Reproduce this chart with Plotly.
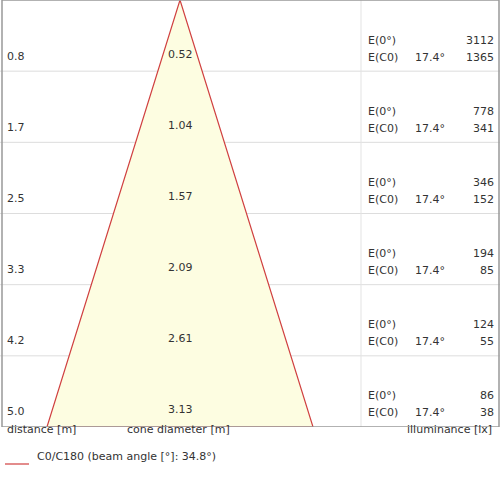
import plotly.graph_objects as go

distances = [0.8, 1.7, 2.5, 3.3, 4.2, 5.0]
diameters = ["0.52", "1.04", "1.57", "2.09", "2.61", "3.13"]
e_center = [3112, 778, 346, 194, 124, 86]
e_c0 = [1365, 341, 152, 85, 55, 38]
half_angle = "17.4°"
max_dist = 5.0
cone_half = 3.13 / 2

PX = 85.0  # pixels per metre horizontally
def xm(px):
    return (px - 180) / PX

H = 426.0
def ym(px):
    return px * max_dist / H

fig = go.Figure()
fig.add_trace(go.Scatter(x=[-cone_half, 0, cone_half, -cone_half], y=[max_dist, 0, max_dist, max_dist],
                         fill="toself", fillcolor="#fdfde1", mode="lines",
                         line=dict(color="#d04040", width=1.2), hoverinfo="skip", showlegend=False))

shapes = []
annots = []
font = dict(family="DejaVu Sans", size=11, color="#333")
step = max_dist / len(distances)
for i, d in enumerate(distances):
    yb = (i + 1) * step
    if i < len(distances) - 1:
        shapes.append(dict(type="line", xref="x", yref="y", x0=xm(0), x1=xm(500), y0=yb, y1=yb,
                           line=dict(color="#dddddd", width=1), layer="below"))
    annots.append(dict(x=xm(5), y=yb - ym(15), text=f"{d:.1f}", xanchor="left", showarrow=False, font=font))
    annots.append(dict(x=0, y=yb - ym(17), text=diameters[i], showarrow=False, font=font))
    annots.append(dict(x=xm(366), y=yb - ym(31), text="E(0°)", xanchor="left", showarrow=False, font=font))
    annots.append(dict(x=xm(366), y=yb - ym(14), text="E(C0)", xanchor="left", showarrow=False, font=font))
    annots.append(dict(x=xm(430), y=yb - ym(14), text=half_angle, showarrow=False, font=font))
    annots.append(dict(x=xm(496), y=yb - ym(31), text=str(e_center[i]), xanchor="right", showarrow=False, font=font))
    annots.append(dict(x=xm(496), y=yb - ym(14), text=str(e_c0[i]), xanchor="right", showarrow=False, font=font))

shapes.append(dict(type="line", xref="x", yref="y", x0=xm(361), x1=xm(361), y0=0, y1=max_dist,
                   line=dict(color="#e3e3e3", width=1), layer="below"))
shapes.append(dict(type="rect", xref="x", yref="y", x0=xm(2), x1=xm(499), y0=0, y1=max_dist,
                   line=dict(color="#999999", width=1.5), layer="above"))

def py(px):
    return 1 - px / 500

annots.append(dict(xref="paper", yref="paper", x=5 / 500, y=py(438), text="distance [m]", xanchor="left", showarrow=False, font=font))
annots.append(dict(xref="paper", yref="paper", x=125 / 500, y=py(438), text="cone diameter [m]", xanchor="left", showarrow=False, font=font))
annots.append(dict(xref="paper", yref="paper", x=494 / 500, y=py(438), text="illuminance [lx]", xanchor="right", showarrow=False, font=font))
annots.append(dict(xref="paper", yref="paper", x=35 / 500, y=py(465), text="C0/C180 (beam angle [°]: 34.8°)", xanchor="left", showarrow=False, font=font))
shapes.append(dict(type="line", xref="paper", yref="paper", x0=5 / 500, x1=29 / 500, y0=py(464), y1=py(464),
                   line=dict(color="#d04040", width=1.2)))

fig.update_layout(
    width=500, height=500, margin=dict(l=0, r=0, t=0, b=0),
    paper_bgcolor="white", plot_bgcolor="white",
    xaxis=dict(range=[xm(0), xm(500)], visible=False, fixedrange=True),
    yaxis=dict(range=[max_dist, 0], domain=[1 - 427 / 500, 1], visible=False, fixedrange=True),
    shapes=shapes, annotations=annots, showlegend=False,
)
fig.write_html("out.html", config={"displayModeBar": False},
               post_script="document.body.style.margin='0';document.body.style.overflow='hidden';")
